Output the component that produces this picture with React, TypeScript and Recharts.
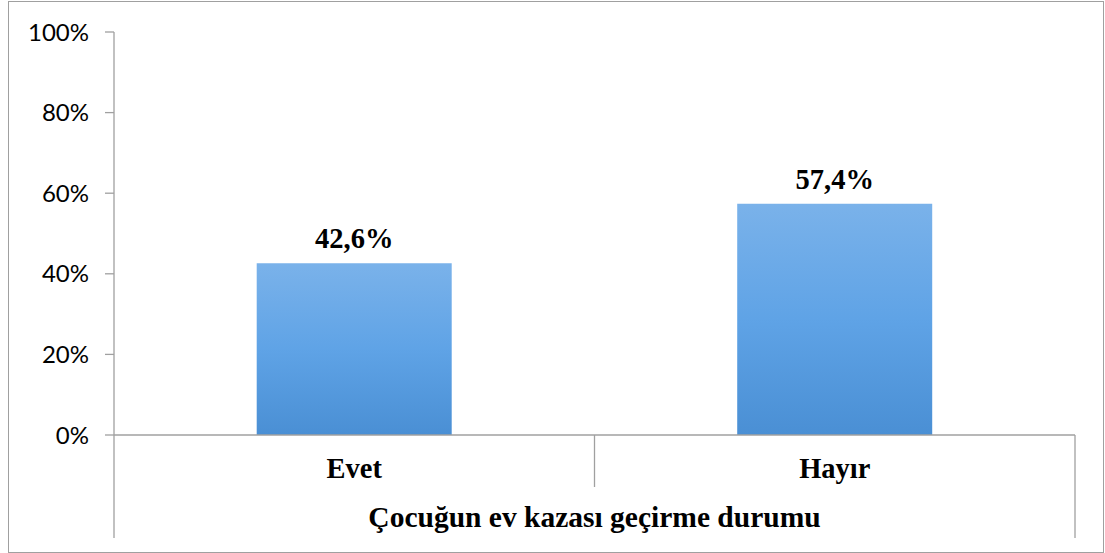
import React from "react";
import { BarChart, Bar, XAxis, YAxis, LabelList } from "recharts";

const categories = ["Evet", "Hayır"];
const values = [0.426, 0.574];
const valueLabels = ["42,6%", "57,4%"];
const yTicks = [0, 0.2, 0.4, 0.6, 0.8, 1];
const axisTitle = "Çocuğun ev kazası geçirme durumu";

const data = categories.map((c, i) => ({ name: c, value: values[i], label: valueLabels[i] }));

const GRAY = "#a0a0a0";
const SERIF = "'Liberation Serif', 'Times New Roman', serif";

const CatTick = (props: any) => {
  const { x, y, payload, index, width } = props;
  const n = categories.length;
  const half = (width || 961) / n / 2;
  const lines: React.ReactNode[] = [];
  if (index === 0) {
    lines.push(<line key="l" x1={x - half} x2={x - half} y1={y} y2={y + 103} stroke={GRAY} strokeWidth={1.3} />);
  }
  const isLast = index === n - 1;
  lines.push(
    <line key="r" x1={x + half} x2={x + half} y1={y} y2={y + (isLast ? 103 : 52)} stroke={GRAY} strokeWidth={1.3} />
  );
  return (
    <g>
      {lines}
      <text x={x} y={y + 43} textAnchor="middle" fontFamily={SERIF} fontWeight="bold" fontSize={28.5} fill="#000">
        {payload.value}
      </text>
    </g>
  );
};

export default function App() {
  return (
    <div style={{ position: "absolute", left: 0, top: 0, width: 1105, height: 553, background: "#fff" }}>
      <div
        style={{
          position: "absolute",
          left: 8,
          top: 1,
          width: 1094,
          height: 550,
          border: `1px solid ${GRAY}`,
        }}
      />
      <div style={{ position: "absolute", left: 0, top: 0 }}>
        <BarChart
          width={1105}
          height={553}
          data={data}
          margin={{ top: 32, right: 30, bottom: 0, left: 0 }}
          barCategoryGap="29.7%"
        >
          <defs>
            <linearGradient id="barGrad" x1="0" y1="0" x2="0" y2="1">
              <stop offset="0%" stopColor="#7ab2ea" />
              <stop offset="50%" stopColor="#5fa3e6" />
              <stop offset="100%" stopColor="#4a8fd4" />
            </linearGradient>
          </defs>
          <YAxis
            width={114}
            domain={[0, 1]}
            ticks={yTicks}
            interval={0}
            tickFormatter={(v: number) => `${Math.round(v * 100)}%`}
            axisLine={{ stroke: GRAY, strokeWidth: 1.3 }}
            tickLine={{ stroke: GRAY, strokeWidth: 1.3 }}
            tickSize={9}
            tickMargin={16}
            tick={{ fontFamily: "Lato, 'Liberation Sans', sans-serif", fontSize: 24, fill: "#000" }}
          />
          <XAxis
            dataKey="name"
            height={118}
            interval={0}
            axisLine={{ stroke: GRAY, strokeWidth: 1.3 }}
            tickLine={false}
            tickSize={0}
            tickMargin={0}
            tick={<CatTick />}
            label={{
              value: axisTitle,
              position: "insideBottom",
              offset: 26,
              style: { fontFamily: SERIF, fontWeight: "bold", fontSize: 29.5, fill: "#000" },
            }}
          />
          <Bar dataKey="value" fill="url(#barGrad)" isAnimationActive={false}>
            <LabelList
              dataKey="label"
              position="top"
              offset={15}
              style={{ fontFamily: SERIF, fontWeight: "bold", fontSize: 28.5, fill: "#000" }}
            />
          </Bar>
        </BarChart>
      </div>
    </div>
  );
}
